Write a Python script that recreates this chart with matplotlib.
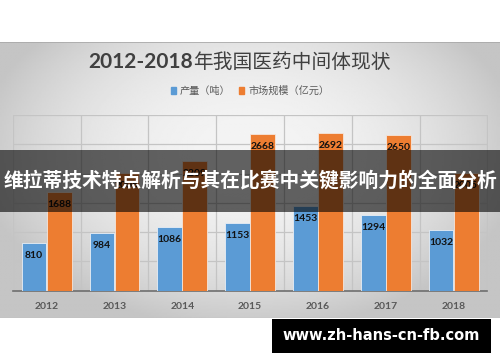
import matplotlib
matplotlib.use('Agg')
import matplotlib.pyplot as plt
from matplotlib.patches import Rectangle
import numpy as np

plt.rcParams['font.family'] = ['Noto Sans CJK SC', 'DejaVu Sans']

# data
years = ['2012', '2013', '2014', '2015', '2016', '2017', '2018']
output_t = [810, 984, 1086, 1153, 1453, 1294, 1032]
market_yi = [1688, 2005, 2209, 2668, 2692, 2650, 2005]
series_names = ['产量（吨）', '市场规模（亿元）']
title_num = '2012-2018'
title_cn = '年我国医药中间体现状'
banner_text = '维拉蒂技术特点解析与其在比赛中关键影响力的全面分析'
watermark = 'www.zh-hans-cn-fb.com'

W, H = 500, 362
fig = plt.figure(figsize=(W / 100, H / 100), dpi=100)
fig.patch.set_facecolor('white')

# grey panel with radial gradient
p_top, p_bot = 42, 318
bg = fig.add_axes([0, 1 - p_bot / H, 1, (p_bot - p_top) / H])
xx, yy = np.meshgrid(np.linspace(-1, 1, 300), np.linspace(-1, 1, 200))
r = np.sqrt(xx ** 2 + ((yy + 0.2) * 0.85) ** 2)
val = np.clip(0.955 - 0.15 * r ** 2.2, 0.77, 0.96)
bg.imshow(val, cmap='gray', vmin=0, vmax=1, aspect='auto', extent=[0, 1, 0, 1])
bg.axhline(1, color='#a9a9a9', lw=1.2)
bg.axhline(0, color='#bdbdbd', lw=1)
bg.set_xlim(0, 1)
bg.set_ylim(0, 1)
bg.axis('off')

# plot area
ax = fig.add_axes([12.7 / W, 1 - 290.7 / H, (487.5 - 12.7) / W, (290.7 - 115) / H])
ax.patch.set_alpha(0)
x = np.arange(len(years))
bw = 0.365
b1 = ax.bar(x - 0.185, output_t, bw, color='#5b9bd5', edgecolor='#e8eef5', lw=0.6, zorder=3)
b2 = ax.bar(x + 0.185, market_yi, bw, color='#ed7d31', edgecolor='#f5e6dc', lw=0.6, zorder=3)

for bars, vals in ((b1, output_t), (b2, market_yi)):
    for rect, v in zip(bars, vals):
        ax.annotate(str(v), (rect.get_x() + rect.get_width() / 2, v), xytext=(0, -9),
                    textcoords='offset points', ha='center', va='center',
                    fontsize=7.5, fontweight='bold', color='#111111',
                    family=['Lato', 'DejaVu Sans'], zorder=4)

ax.set_xlim(-0.5, len(years) - 0.5)
ax.set_ylim(0, 3000)
ax.set_yticks(np.arange(0, 3001, 500))
ax.set_yticklabels([])
ax.set_xticks(x)
ax.set_xticklabels(years, fontsize=7.5, color='#595959', fontweight='bold',
                   family=['Lato', 'DejaVu Sans'])
ax.set_xticks(np.arange(-0.5, len(years)), minor=True)
ax.tick_params(axis='both', which='both', length=0, pad=8)
ax.grid(axis='y', color='#c4c4c4', lw=0.9, zorder=0)
ax.grid(axis='x', which='minor', color='#c4c4c4', lw=0.9, zorder=0)
for s in ('top', 'right', 'left'):
    ax.spines[s].set_visible(False)
ax.spines['bottom'].set_color('#6e6e6e')
ax.spines['bottom'].set_linewidth(1.2)

# title in two pieces
ty = 1 - 62 / H
fig.text(193 / W, ty, title_num, ha='right', va='center', fontsize=15,
         fontweight='bold', color='#404040', family=['Lato', 'DejaVu Sans'])
fig.text(193 / W, ty, title_cn, ha='left', va='center', fontsize=14.2, color='#404040')

# legend
handles = [Rectangle((0, 0), 1, 1, color='#5b9bd5'), Rectangle((0, 0), 1, 1, color='#ed7d31')]
fig.legend(handles, series_names, loc='center', bbox_to_anchor=(0.5, 1 - 91 / H), ncol=2,
           frameon=False, fontsize=7.3, labelcolor='#595959', handlelength=0.55, handleheight=0.55,
           handletextpad=0.4, columnspacing=0.8)

# dark banner over the middle
fig.patches.append(Rectangle((0, 1 - 212 / H), 1, 62 / H, transform=fig.transFigure,
                             facecolor='black', alpha=0.6, zorder=10))
fig.text(0.5, 1 - 181 / H, banner_text, ha='center', va='center', fontsize=14.2,
         fontweight='bold', color='white', zorder=11)

# watermark
fig.patches.append(Rectangle((272 / W, 1 - 353 / H), 219 / W, 34 / H, transform=fig.transFigure,
                             facecolor='black', zorder=10))
fig.text(381 / W, 1 - 336 / H, watermark, ha='center', va='center', fontsize=10.5,
         fontweight='bold', color='white', family=['DejaVu Sans'], zorder=11)

fig.savefig('out.png', dpi=100)
